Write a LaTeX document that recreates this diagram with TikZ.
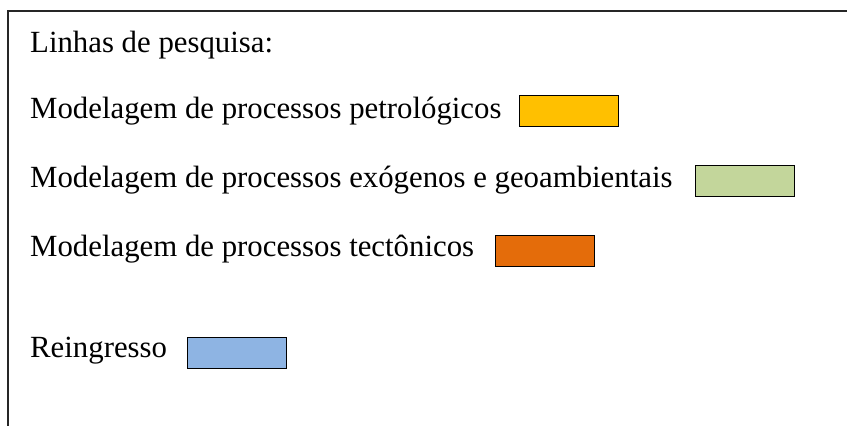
\documentclass[tikz,border=0pt]{standalone}
\usepackage{fontspec}
\setmainfont{Liberation Serif}
\definecolor{cyellow}{HTML}{FFC000}
\definecolor{cgreen}{HTML}{C3D69B}
\definecolor{corange}{HTML}{E46C0A}
\definecolor{cblue}{HTML}{8EB4E3}
\begin{document}
\begin{tikzpicture}[x=1pt,y=-1pt,
  lbl/.style={anchor=base west,inner sep=0pt,font=\fontsize{30.8}{36}\selectfont},
  swatch/.style={draw=black,line width=1.7pt,minimum width=99pt,minimum height=31pt,inner sep=0pt,anchor=north west}]
\useasboundingbox (0,0) rectangle (847,426);
\draw[line width=1.8pt,color=black!85] (8,426) -- (8,11) -- (847,11);
\node[lbl] (t0) at (30,52) {Linhas de pesquisa:};
\node[lbl] (t1) at (30,118) {Modelagem de processos petrológicos};
\node[swatch,fill=cyellow] (s1) at (518.5,94.5) {};
\node[lbl] (t2) at (30,187) {Modelagem de processos exógenos e geoambientais};
\node[swatch,fill=cgreen] (s2) at (694.5,164.5) {};
\node[lbl] (t3) at (30,256) {Modelagem de processos tectônicos};
\node[swatch,fill=corange] (s3) at (494.5,234.5) {};
\node[lbl] (t4) at (30,357) {Reingresso};
\node[swatch,fill=cblue] (s4) at (186.5,336.5) {};
\end{tikzpicture}
\end{document}
